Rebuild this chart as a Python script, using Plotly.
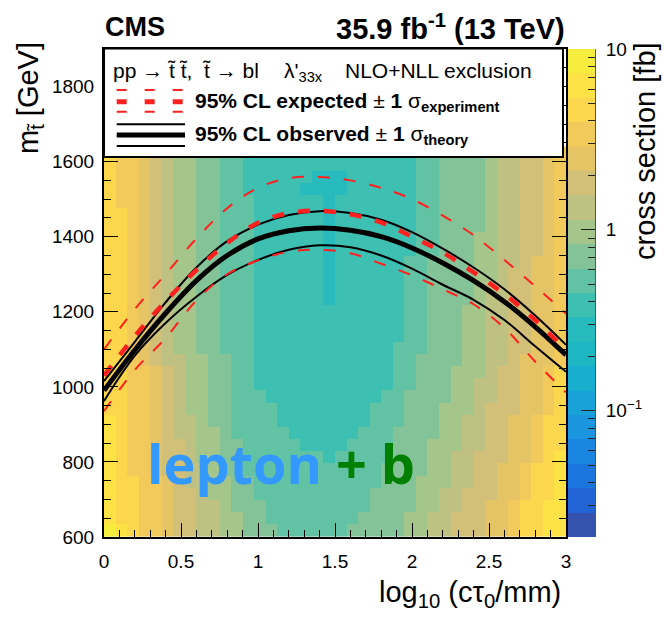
import numpy as np
import plotly.graph_objects as go

# ------------------------------------------------------------------ data
LOG_CTAU_EDGES = np.linspace(0.0, 3.0, 41)      # log10(c tau0 / mm) bin edges
MASS_EDGES = np.linspace(600.0, 1640.0, 33)     # stop mass bin edges [GeV] (visible rows)

XSEC_MIN_FB = 0.02
XSEC_MAX_FB = 10.0
N_LEVELS = 20
LEVEL_CODES = "0123456789abcdefghij"            # level index 0..19 (low -> high)
LEVEL_COLORS = [
    "#3452ae", "#2064d6", "#1c76e0", "#1a86e2", "#1a95de",
    "#19a2d8", "#17aecf", "#1cb7c3", "#27bbbd", "#3dbfb1",
    "#62c2a4", "#84c297", "#a5c68b", "#bfc183", "#d3c078",
    "#e5c466", "#f2c95b", "#fcd64c", "#fde245", "#f5ec3d",
]

# cross-section level per (mass row, ctau column); row 0 = 600-632.5 GeV
XSEC_LEVEL_ROWS = [
    "jihggfeeddccbbbaaaaaabbbbbccddeeeffghhii",
    "ihhggfeeddccbbaaaaaaaabbbbccddeeeffghhii",
    "ihhggfeeddcbbbaaaaaaaaabbbbccddeeffghhii",
    "ihhggfeedccbbaaaaaaaaaabbbbccddeeeffghhi",
    "ihhggfeddccbbaaaaaaaaaaabbbcccddeeffghhi",
    "ihggfeeddcbbaaaaaaaaaaaabbbbccddeeffghhi",
    "ihggfeedccbbaaaaaaa9aaaaabbbccddeeeffghi",
    "ihggfeedccbbaaaaa9999aaaabbbcccddeeffghh",
    "ihggfeddccbaaaaa999999aaabbbbccddeeffghh",
    "ihggfeddcbbaaaa99999999aaabbbccddeeffghh",
    "hhggfedccbbaaaa99999999aaabbbcccdeeeffgh",
    "hhggfedccbbaaa9999999999aabbbbccddeeffgh",
    "hhggfedccbbaa999999999999aabbbccddeeffgh",
    "hhggfedccbbaa999999999999aabbbcccdeeffgh",
    "hhgfeddccbbaa999999999999aabbbbccddefffg",
    "hhgfedccbbaaa999999999999aaabbbccddeeffg",
    "hhgfedccbbaaa9999999999999aabbbccddeeffg",
    "hhgfedccbbaaa9999999999999aabbbccddeeffg",
    "hhgfedccbbaaa9999999999999aabbbccddeeffg",
    "hhgfedccbbaaa9999998999999aabbbbcddeeffg",
    "hhgfedccbbaaa9999998999999aabbbbcddeeffg",
    "hhgfedccbbaaa9999998999999aabbbbccdeeffg",
    "hhgfedccbbaaa9999998999999aabbbbccddeffg",
    "hhgfedccbbaaa99999989999999aabbbccddeefg",
    "hhgfedccbbaaa99999989999999aabbbccddeefg",
    "hhgfedccbbaaa99999989999999aabbbbcddeefg",
    "hhgfedccbbaaa99999989999999aabbbbcddeefg",
    "hggfedccbbaaa99999989999999aabbbbcddeefg",
    "hggfedccbbaa999998888999999aabbbbcddeefg",
    "hggfedccbbaa999999888999999aabbbbcddeefg",
    "hggfedccbbaa999999999999999aabbbbcddeefg",
    "hggfedccbbaa999999999999999aabbbbcddeefg",
]

# exclusion contours, sampled at log10(c tau0/mm) = 0, 0.2, ..., 3.0 ; stop mass [GeV]
CONTOUR_X = [0.0, 0.2, 0.4, 0.6, 0.8, 1.0, 1.2, 1.4, 1.6, 1.8, 2.0, 2.2, 2.4, 2.6, 2.8, 3.0]
OBS_M = [990, 1098, 1196, 1283, 1350, 1394, 1416, 1423, 1417, 1400, 1370, 1330, 1283, 1227, 1160, 1085]
OBS_UP_M = [1015, 1120, 1225, 1318, 1388, 1432, 1458, 1468, 1463, 1445, 1412, 1368, 1318, 1260, 1190, 1112]
OBS_DN_M = [962, 1083, 1170, 1240, 1298, 1338, 1365, 1377, 1372, 1350, 1315, 1272, 1232, 1178, 1108, 1040]
EXP_M = [1030, 1135, 1228, 1311, 1383, 1437, 1463, 1469, 1460, 1438, 1400, 1358, 1305, 1247, 1178, 1098]
EXP_UP_M = [1100, 1207, 1300, 1395, 1476, 1530, 1556, 1559, 1550, 1530, 1500, 1456, 1404, 1338, 1268, 1195]
EXP_DN_M = [935, 1045, 1130, 1230, 1300, 1337, 1360, 1365, 1356, 1328, 1297, 1260, 1220, 1157, 1067, 985]

X_TICKS = [0, 0.5, 1, 1.5, 2, 2.5, 3]
Y_TICKS = [600, 800, 1000, 1200, 1400, 1600, 1800]
Z_TICK_VALUES = [0.1, 1, 10]
Z_TICK_LABELS = ["10<sup>\u22121</sup>", "1", "10"]

# ------------------------------------------------------------------ build
for row in XSEC_LEVEL_ROWS:
    if len(row) != 40:
        raise ValueError("bad row length %d: %s" % (len(row), row))

lmin, lmax = np.log10(XSEC_MIN_FB), np.log10(XSEC_MAX_FB)
level_edges = np.linspace(lmin, lmax, N_LEVELS + 1)
level_centers = 0.5 * (level_edges[:-1] + level_edges[1:])
xsec = np.array([[10 ** level_centers[LEVEL_CODES.index(ch)] for ch in row]
                 for row in XSEC_LEVEL_ROWS])
z_main = np.log10(xsec)

cs = []
for k, col in enumerate(LEVEL_COLORS):
    cs.append([k / N_LEVELS, col])
    cs.append([(k + 1) / N_LEVELS, col])

W, H = 664, 617
ML, MR, MT, MB = 104, 40, 49, 80
PW, PH = W - ML - MR, H - MT - MB


def px(x):
    return (x - ML) / PW


def py(y):
    return (H - MB - y) / PH


FONT = "Liberation Sans, Arial, Helvetica, sans-serif"
RED = "#ff2020"

fig = go.Figure()
fig.add_trace(go.Heatmap(x=LOG_CTAU_EDGES, y=MASS_EDGES, z=z_main, colorscale=cs,
                         zmin=lmin, zmax=lmax, showscale=False, hoverinfo="skip"))


def curve(m, color, width, dash):
    fig.add_trace(go.Scatter(x=CONTOUR_X, y=m, mode="lines", hoverinfo="skip",
                             showlegend=False,
                             line=dict(color=color, width=width, dash=dash,
                                       shape="spline", smoothing=1.0)))


curve(OBS_UP_M, "black", 2, "solid")
curve(OBS_DN_M, "black", 2, "solid")
curve(OBS_M, "black", 5, "solid")
curve(EXP_UP_M, RED, 2, "12px,14px")
curve(EXP_DN_M, RED, 2, "12px,14px")
curve(EXP_M, RED, 4.5, "12px,14px")

# colour scale drawn as its own heatmap on a log-valued axis
fig.add_trace(go.Heatmap(x=[0, 1], y=level_edges, z=[[c] for c in level_centers],
                         colorscale=cs, zmin=lmin, zmax=lmax, showscale=False,
                         hoverinfo="skip", xaxis="x2", yaxis="y2"))

minor_z = [np.log10(m * d) for d in (0.01, 0.1, 1) for m in range(2, 10)
           if lmin <= np.log10(m * d) <= lmax]

tickfont = dict(family=FONT, size=19, color="black")
axis_common = dict(showgrid=False, zeroline=False, showline=True, linecolor="black",
                   linewidth=2, mirror="ticks", ticks="inside", ticklen=14,
                   tickwidth=1, tickcolor="black", tickfont=tickfont)

fig.update_layout(
    width=W, height=H,
    margin=dict(l=ML, r=MR, t=MT, b=MB),
    paper_bgcolor="white", plot_bgcolor="white",
    showlegend=False,
    xaxis=dict(domain=[0, px(566)], range=[0, 3], tickvals=X_TICKS,
               minor=dict(dtick=0.1, ticks="inside", ticklen=7, tickcolor="black"),
               ticklabelstandoff=6, **axis_common),
    yaxis=dict(domain=[0, 1], range=[600, 1900], tickvals=Y_TICKS,
               minor=dict(dtick=50, ticks="inside", ticklen=7, tickcolor="black"),
               ticklabelstandoff=4, **axis_common),
    xaxis2=dict(domain=[px(568), px(595)], range=[0, 1], visible=False, anchor="y2"),
    yaxis2=dict(domain=[0, 1], range=[lmin, lmax], anchor="x2", side="right",
                tickvals=[np.log10(v) for v in Z_TICK_VALUES], ticktext=Z_TICK_LABELS,
                ticks="inside", ticklen=14, tickcolor="#222", showgrid=False,
                zeroline=False, showline=True, linecolor="#555", linewidth=1,
                minor=dict(tickvals=minor_z, ticks="inside", ticklen=7, tickcolor="#222"),
                tickfont=tickfont, ticklabelstandoff=6),
)

shapes = []
# legend box
shapes.append(dict(type="rect", xref="paper", yref="paper", x0=px(104), x1=px(563),
                   y0=py(157), y1=py(48.5), fillcolor="white",
                   line=dict(color="black", width=2), layer="above"))
for yy, wd in ((90, 2), (101.7, 5), (111.7, 2)):
    shapes.append(dict(type="line", xref="paper", yref="paper", x0=px(116.7), x1=px(184),
                       y0=py(yy), y1=py(yy), layer="above",
                       line=dict(color=RED, width=wd, dash="10px,18px")))
for yy, wd in ((124.3, 2), (135, 5), (146, 2)):
    shapes.append(dict(type="line", xref="paper", yref="paper", x0=px(116.7), x1=px(185),
                       y0=py(yy), y1=py(yy), layer="above",
                       line=dict(color="black", width=wd)))
fig.update_layout(shapes=shapes)


def ann(text, x, y, size, xanchor="left", yanchor="middle", color="black",
        angle=0, family=FONT):
    fig.add_annotation(text=text, x=px(x), y=py(y), xref="paper", yref="paper",
                       xanchor=xanchor, yanchor=yanchor, showarrow=False,
                       textangle=angle, font=dict(family=family, size=size, color=color))


ann("<b>CMS</b>", 103, 27, 27)
ann("<b>35.9 fb<sup>-1</sup> (13 TeV)</b>", 567, 27, 29, xanchor="right")
ann("pp \u2192 t\u0303 t\u0303,  t\u0303 \u2192 bl", 111, 70, 21)
ann("\u03bb'<sub>33x</sub>", 282, 72, 21)
ann("NLO+NLL exclusion", 343, 70, 21)
ann("<b>95% CL expected</b> \u00b1 <b>1</b> \u03c3<sub><b>experiment</b></sub>", 193, 102, 21)
ann("<b>95% CL observed</b> \u00b1 <b>1</b> \u03c3<sub><b>theory</b></sub>", 193, 135, 21)
ann("<b><span style='color:#3399ff'>lepton</span> <span style='color:#008000'>+ b</span></b>",
    145, 463, 54, family="Open Sans, Noto Sans, sans-serif")
ann("log<sub>10</sub> (c\u03c4<sub>0</sub>/mm)", 563, 594, 29, xanchor="right")
ann("m<sub>t\u0303</sub> [GeV]", 30, 40, 29, xanchor="center", yanchor="top", angle=-90)
ann("cross section [fb]", 645, 40, 29, xanchor="center", yanchor="top", angle=-90)

fig.write_html("out.html", config={"displayModeBar": False},
               post_script="document.body.style.margin='0px';")
